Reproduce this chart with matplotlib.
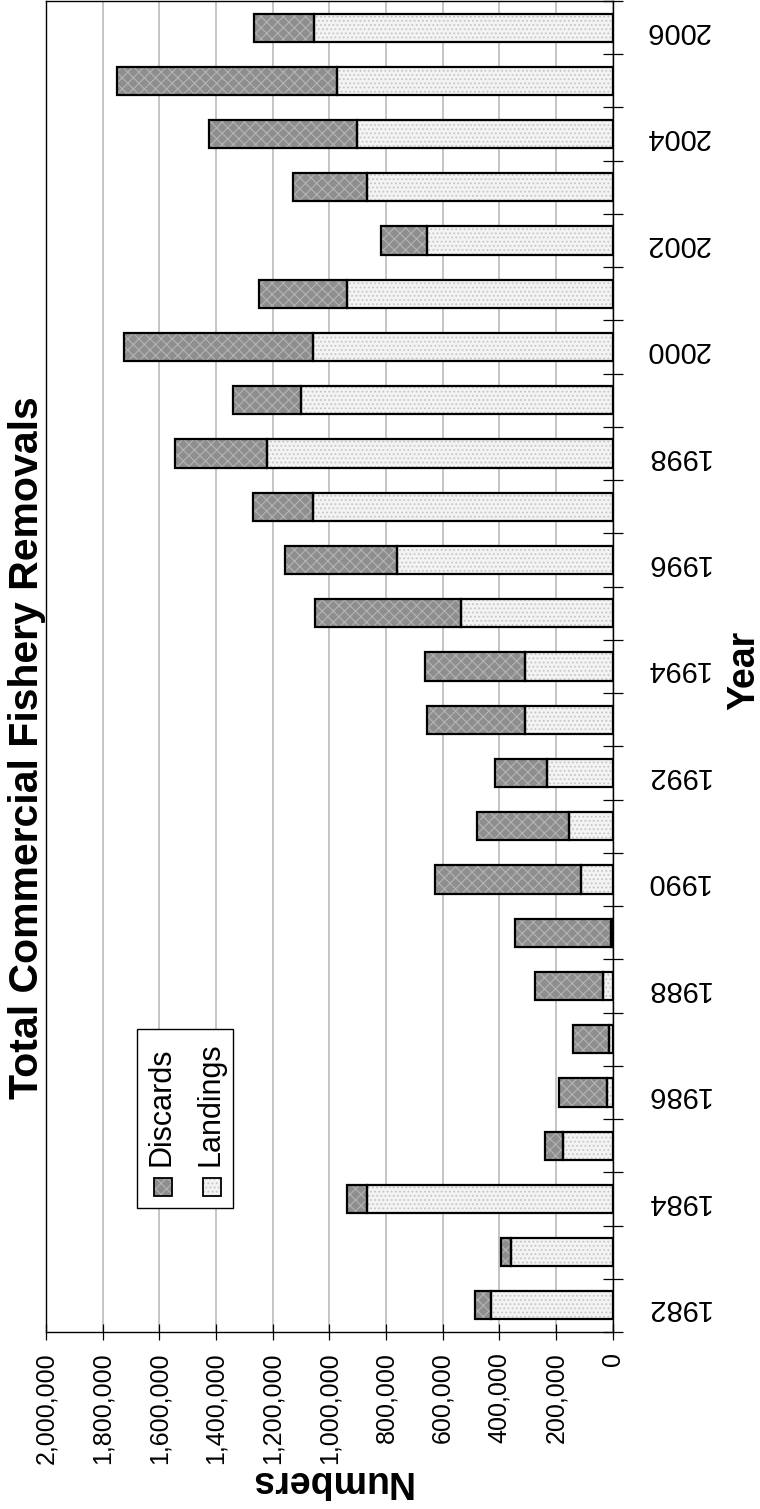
import matplotlib
matplotlib.use("Agg")
import matplotlib.pyplot as plt
import matplotlib.patches as mpatches
from matplotlib.ticker import FuncFormatter
import numpy as np

plt.rcParams["font.family"] = ["Liberation Sans", "DejaVu Sans"]
plt.rcParams["hatch.linewidth"] = 0.8

# ── Data (numbers of fish) ───────────────────────────────────────────────────
years = list(range(1982, 2007))
landings = [430000, 359000, 868000, 176000, 20000, 12000, 34000, 6000,
            113000, 154000, 232000, 310000, 310000, 537000, 762000, 1057000,
            1221000, 1100000, 1057000, 939000, 657000, 868000, 904000,
            974000, 1053000]
discards = [57000, 36000, 71000, 64000, 169000, 128000, 241000, 339000,
            515000, 326000, 185000, 347000, 354000, 515000, 396000, 214000,
            325000, 241000, 666000, 311000, 162000, 262000, 522000,
            777000, 212000]
value_ticks = np.arange(0, 2000001, 200000)
label_years = [y for y in years if y % 2 == 0]

# ── Colours ──────────────────────────────────────────────────────────────────
C_DISC, C_DISC_H = "#8e8e8e", "#b4b4b4"
C_LAND, C_LAND_H = "#f3f3f3", "#c6c6c6"

W, H = 760, 1509
fig = plt.figure(figsize=(W / 100, H / 100), dpi=100)


def fx(px):
    return px / W


def fy(py):
    return 1 - py / H


ax = fig.add_axes([fx(46), fy(1332), fx(612.7) - fx(46), fy(1) - fy(1332)])
pos = np.arange(len(years))
bh = 0.53

# fill + pattern, then black outlines on top
ax.barh(pos, landings, height=bh, color=C_LAND, hatch="....",
        edgecolor=C_LAND_H, lw=0, zorder=2)
ax.barh(pos, discards, left=landings, height=bh, color=C_DISC, hatch="xxx",
        edgecolor=C_DISC_H, lw=0, zorder=2)
ax.barh(pos, landings, height=bh, fill=False, edgecolor="black", lw=1.6, zorder=3)
ax.barh(pos, discards, left=landings, height=bh, fill=False,
        edgecolor="black", lw=1.6, zorder=3)

# ── Axes ─────────────────────────────────────────────────────────────────────
ax.set_xlim(2000000, 0)
ax.set_ylim(-0.5, len(years) - 0.5)
ax.set_xticks(value_ticks)
ax.xaxis.set_major_formatter(FuncFormatter(lambda v, p: f"{int(v):,}"))
ax.tick_params(axis="x", direction="inout", length=11.5, width=0.9,
               labelsize=18, labelrotation=90, pad=9)
ax.xaxis.grid(True, color="#c0c0c0", lw=1.3)
ax.set_axisbelow(True)

ax.yaxis.tick_right()
ax.set_yticks([years.index(y) for y in label_years])
ax.set_yticklabels([str(y) for y in label_years])
ax.set_yticks(np.arange(-0.5, len(years)), minor=True)
ax.tick_params(axis="y", which="major", length=0, labelsize=21, pad=23,
               labelrotation=180)
ax.tick_params(axis="y", which="minor", direction="inout", length=14, width=0.9)
for sp in ax.spines.values():
    sp.set_color("black")
    sp.set_linewidth(1.0)

# ── Titles (the whole chart is turned on its side) ───────────────────────────
fig.text(fx(27), fy(748), "Total Commercial Fishery Removals", rotation=90,
         ha="center", va="center", fontsize=29.5, fontweight="bold")
fig.text(fx(330), fy(1481), "Numbers", rotation=180, ha="center",
         va="center", fontsize=27, fontweight="bold")
fig.text(fx(744), fy(670), "Year", rotation=90, ha="center", va="center",
         fontsize=27, fontweight="bold")

# ── Legend, drawn by hand because it is rotated ──────────────────────────────
fig.add_artist(mpatches.Rectangle((fx(136.7), fy(1208)), fx(232.7) - fx(136.7),
                                  fy(1029) - fy(1208), transform=fig.transFigure,
                                  facecolor="white", edgecolor="black", lw=1.0))
for xc, name, fc, hc, hp in [(163, "Discards", C_DISC, C_DISC_H, "xxx"),
                             (212, "Landings", C_LAND, C_LAND_H, "....")]:
    fig.add_artist(mpatches.Rectangle((fx(xc - 9), fy(1196)), fx(18), fy(1178) - fy(1196),
                                      transform=fig.transFigure, facecolor=fc,
                                      hatch=hp, edgecolor=hc, lw=0))
    fig.add_artist(mpatches.Rectangle((fx(xc - 9), fy(1196)), fx(18), fy(1178) - fy(1196),
                                      transform=fig.transFigure, fill=False,
                                      edgecolor="black", lw=1.3))
    fig.text(fx(xc - 1), fy(1166), name, rotation=90, ha="center", va="bottom",
             fontsize=22)

plt.savefig("out.png", dpi=100, facecolor="white")
plt.close()
